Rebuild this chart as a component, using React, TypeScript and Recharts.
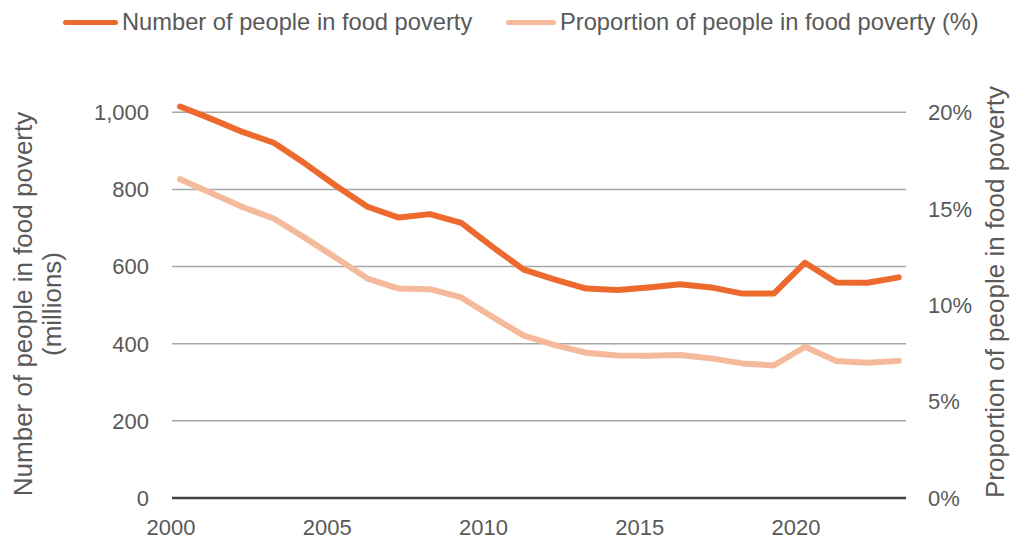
import { LineChart, Line, XAxis, YAxis, CartesianGrid } from 'recharts';

const years = [
  2000, 2001, 2002, 2003, 2004, 2005, 2006, 2007, 2008, 2009, 2010, 2011,
  2012, 2013, 2014, 2015, 2016, 2017, 2018, 2019, 2020, 2021, 2022, 2023,
];

// millions of people
const peopleMillions = [
  1015, 983, 949, 921, 867, 809, 755, 727, 736, 713, 651, 592,
  566, 543, 539, 546, 554, 546, 530, 530, 610, 559, 558, 572,
];

// share of population, %
const proportionPct = [
  16.53, 15.82, 15.09, 14.49, 13.49, 12.44, 11.38, 10.86, 10.83, 10.4, 9.39, 8.42,
  7.93, 7.53, 7.39, 7.37, 7.41, 7.24, 6.98, 6.87, 7.84, 7.1, 7.01, 7.11,
];

const xTicks = [2000, 2005, 2010, 2015, 2020];
const leftTicks = [0, 200, 400, 600, 800, 1000];
const rightTicks = [0, 5, 10, 15, 20];

const seriesNames = ['Number of people in food poverty', 'Proportion of people in food poverty (%)'];
const leftTitle = ['Number of people in food poverty', '(millions)'];
const rightTitle = 'Proportion of people in food poverty';

const data = years.map((year, i) => ({
  year,
  people: peopleMillions[i],
  proportion: proportionPct[i],
}));

const FONT = '"Liberation Sans", Arial, sans-serif';
const TEXT = '#595959';
const DARK_ORANGE = '#EC6A2E';
const LIGHT_ORANGE = '#F5BA9B';

const fmtThousands = (v: number) => v.toLocaleString('en-US');

// rotated axis titles drawn in chart coords
const LeftTitle = () => (
  <g fontFamily={FONT} fill={TEXT} fontSize={26}>
    <text transform="translate(32, 304) rotate(-90)" textAnchor="middle">{leftTitle[0]}</text>
    <text transform="translate(61, 304) rotate(-90)" textAnchor="middle">{leftTitle[1]}</text>
  </g>
);

const RightTitle = () => (
  <g fontFamily={FONT} fill={TEXT} fontSize={26}>
    <text transform="translate(1004, 292) rotate(-90)" textAnchor="middle">{rightTitle}</text>
  </g>
);

function LegendItem({ color, label, left, lineWidth }: { color: string; label: string; left: number; lineWidth: number }) {
  return (
    <div style={{ position: 'absolute', left, top: 8, display: 'flex', alignItems: 'center', height: 28 }}>
      <div style={{ width: lineWidth, height: 5, borderRadius: 3, background: color, marginRight: 4 }} />
      <span style={{ fontFamily: FONT, fontSize: 23.7, color: TEXT, whiteSpace: 'nowrap', lineHeight: '28px' }}>{label}</span>
    </div>
  );
}

export default function App() {
  return (
    <div style={{ position: 'absolute', left: 0, top: 0, width: 1019, height: 540, background: '#fff' }}>
      <LineChart
        width={1019}
        height={540}
        data={data}
        margin={{ top: 93, right: 0, left: 0, bottom: 0 }}
      >
        <CartesianGrid
          yAxisId="left"
          vertical={false}
          horizontalValues={leftTicks}
          stroke="#A6A6A6"
          strokeWidth={1.5}
        />
        <XAxis
          dataKey="year"
          type="number"
          domain={[1999.744, 2023.232]}
          ticks={xTicks}
          height={42}
          axisLine={{ stroke: '#404040', strokeWidth: 2.5 }}
          tickLine={false}
          tickSize={0}
          tickMargin={21}
          tick={{ fontSize: 22, fill: TEXT, fontFamily: FONT, dx: -9 }}
          allowDecimals={false}
        />
        <YAxis
          yAxisId="left"
          domain={[0, 1050]}
          ticks={leftTicks}
          width={172}
          axisLine={false}
          tickLine={false}
          tickSize={0}
          tickMargin={23}
          tickFormatter={fmtThousands}
          tick={{ fontSize: 22, fill: TEXT, fontFamily: FONT }}
          label={{ content: LeftTitle }}
        />
        <YAxis
          yAxisId="right"
          orientation="right"
          domain={[0, 21]}
          ticks={rightTicks}
          width={113}
          axisLine={false}
          tickLine={false}
          tickSize={0}
          tickMargin={22}
          tickFormatter={(v: number) => `${v}%`}
          tick={{ fontSize: 22, fill: TEXT, fontFamily: FONT, textAnchor: 'start' }}
          label={{ content: RightTitle }}
        />
        <Line
          yAxisId="right"
          type="linear"
          dataKey="proportion"
          name={seriesNames[1]}
          stroke={LIGHT_ORANGE}
          strokeWidth={6}
          strokeLinecap="round"
          strokeLinejoin="round"
          dot={false}
          activeDot={false}
          isAnimationActive={false}
        />
        <Line
          yAxisId="left"
          type="linear"
          dataKey="people"
          name={seriesNames[0]}
          stroke={DARK_ORANGE}
          strokeWidth={6}
          strokeLinecap="round"
          strokeLinejoin="round"
          dot={false}
          activeDot={false}
          isAnimationActive={false}
        />
      </LineChart>
      <LegendItem color={DARK_ORANGE} label={seriesNames[0]} left={63} lineWidth={55} />
      <LegendItem color={LIGHT_ORANGE} label={seriesNames[1]} left={506} lineWidth={50} />
    </div>
  );
}
